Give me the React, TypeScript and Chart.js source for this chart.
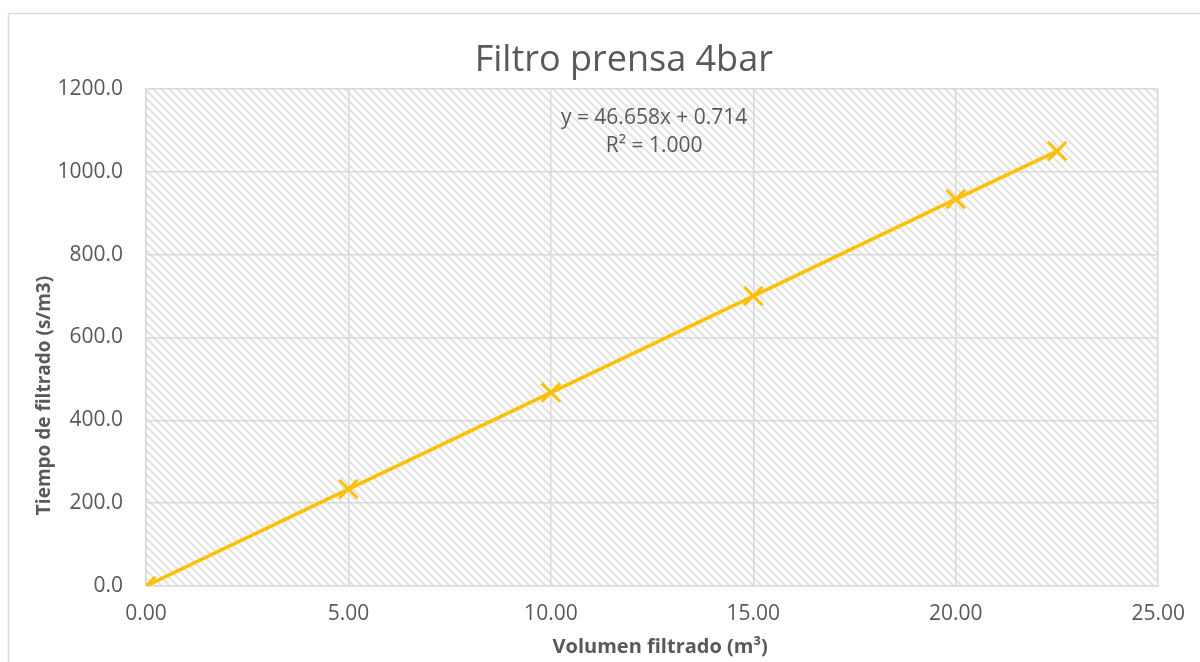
import React, { useEffect, useRef } from "react";
import { Chart, registerables } from "chart.js";

Chart.register(...registerables);

const volumen = [0, 5, 10, 15, 20, 22.5];
const tiempo = [0, 234, 467, 700, 934, 1050];
const chartTitle = "Filtro prensa 4bar";
const xTitle = "Volumen filtrado (m³)";
const yTitle = "Tiempo de filtrado (s/m3)";
const trendLines = ["y = 46.658x + 0.714", "R² = 1.000"];

const TEXT = "#595959";
const GRID = "#d9d9d9";
const SERIES = "#FFC000";
const FONT = "'Open Sans', sans-serif";

function makePattern(): CanvasPattern | string {
  const c = document.createElement("canvas");
  const n = 8;
  c.width = n;
  c.height = n;
  const g = c.getContext("2d");
  if (!g) return "#ffffff";
  g.fillStyle = "#ffffff";
  g.fillRect(0, 0, n, n);
  g.strokeStyle = "#e3e3e3";
  g.lineWidth = 2;
  g.beginPath();
  g.moveTo(-2, -2);
  g.lineTo(n + 2, n + 2);
  g.moveTo(-2, n - 2);
  g.lineTo(2, n + 2);
  g.moveTo(n - 2, -2);
  g.lineTo(n + 2, 2);
  g.stroke();
  const p = g.createPattern(c, "repeat");
  return p || "#ffffff";
}

const decorPlugin = {
  id: "decor",
  beforeDraw(chart: any) {
    const { ctx, chartArea } = chart;
    ctx.save();
    ctx.fillStyle = "#ffffff";
    ctx.fillRect(0, 0, chart.width, chart.height);
    ctx.strokeStyle = GRID;
    ctx.lineWidth = 1.5;
    ctx.strokeRect(8.5, 13.5, chart.width + 20, chart.height + 20);
    ctx.fillStyle = makePattern();
    ctx.fillRect(chartArea.left, chartArea.top, chartArea.right - chartArea.left, chartArea.bottom - chartArea.top);
    ctx.restore();
  },
  afterDraw(chart: any) {
    const { ctx, chartArea } = chart;
    const xs = chart.scales.x;
    const ys = chart.scales.y;
    ctx.save();
    ctx.fillStyle = TEXT;
    ctx.textAlign = "center";
    ctx.textBaseline = "middle";
    // chart title
    ctx.font = `36px ${FONT}`;
    ctx.fillText(chartTitle, xs.getPixelForValue(11.8), chartArea.top - 28);
    // trendline label
    ctx.font = `21px ${FONT}`;
    const cx = xs.getPixelForValue(12.55);
    trendLines.forEach((t, i) => {
      ctx.fillText(t, cx, chartArea.top + 29 + i * 28);
    });
    // x axis title
    ctx.font = `bold 20px ${FONT}`;
    ctx.fillText(xTitle, xs.getPixelForValue(12.7), chartArea.bottom + 61);
    // y axis title
    ctx.font = `bold 19px ${FONT}`;
    ctx.translate(45, ys.getPixelForValue(460));
    ctx.rotate(-Math.PI / 2);
    ctx.fillText(yTitle, 0, 0);
    ctx.restore();
  },
};

export default function App() {
  const ref = useRef<HTMLCanvasElement | null>(null);
  useEffect(() => {
    document.body.style.margin = "0";
    if (!ref.current) return;
    const chart = new Chart(ref.current, {
      type: "scatter",
      data: {
        datasets: [
          {
            label: "Serie",
            data: volumen.map((x, i) => ({ x, y: tiempo[i] })),
            showLine: true,
            borderColor: SERIES,
            backgroundColor: SERIES,
            borderWidth: 3.5,
            pointStyle: "crossRot",
            pointRadius: 13,
            pointBorderWidth: 3,
            pointBorderColor: SERIES,
          },
        ],
      },
      options: {
        animation: false,
        responsive: false,
        devicePixelRatio: 1,
        layout: { padding: { left: 34, right: 39, top: 89, bottom: 0 } },
        plugins: {
          legend: { display: false },
          tooltip: { enabled: false },
          title: { display: false },
        },
        scales: {
          x: {
            type: "linear",
            min: 0,
            max: 25,
            ticks: {
              stepSize: 5,
              color: TEXT,
              font: { family: FONT, size: 21 },
              padding: 15,
              callback: (v: any) => Number(v).toFixed(2),
            },
            grid: { color: GRID, lineWidth: 1.5, drawTicks: false },
            border: { display: true, color: GRID, width: 1.5 },
            title: { display: false },
            afterFit: (s: any) => {
              s.height = 76;
            },
          },
          y: {
            min: 0,
            max: 1200,
            ticks: {
              stepSize: 200,
              color: TEXT,
              font: { family: FONT, size: 21 },
              padding: 23,
              callback: (v: any) => Number(v).toFixed(1),
            },
            grid: { color: GRID, lineWidth: 1.5, drawTicks: false },
            border: { display: true, color: GRID, width: 1.5 },
            title: { display: false },
            afterFit: (s: any) => {
              s.width = 112;
            },
          },
        },
      },
      plugins: [decorPlugin],
    });
    return () => chart.destroy();
  }, []);
  return (
    <div style={{ position: "absolute", left: 0, top: 0, width: 1200, height: 662 }}>
      <canvas ref={ref} width={1200} height={662} style={{ width: 1200, height: 662, display: "block" }} />
    </div>
  );
}
